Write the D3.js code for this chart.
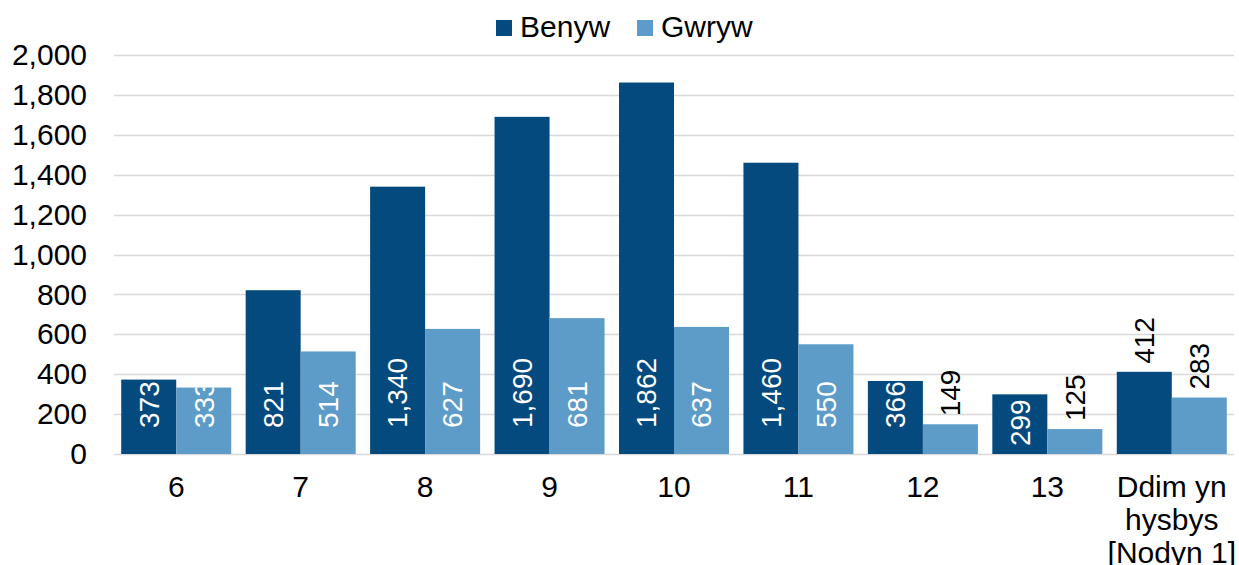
<!DOCTYPE html>
<html>
<head>
<meta charset="utf-8">
<script src="https://cdn.jsdelivr.net/npm/d3@7"></script>
<style>
  body { margin: 0; background: #fff; }
  svg { display: block; font-family: "Liberation Sans", Arial, sans-serif; }
</style>
</head>
<body>
<svg id="chart" width="1239" height="565"></svg>
<script>
// data
const categories = ["6", "7", "8", "9", "10", "11", "12", "13", "Ddim yn hysbys [Nodyn 1]"];
const seriesNames = ["Benyw", "Gwryw"];
const benyw = [373, 821, 1340, 1690, 1862, 1460, 366, 299, 412];
const gwryw = [333, 514, 627, 681, 637, 550, 149, 125, 283];
const yTicks = [0, 200, 400, 600, 800, 1000, 1200, 1400, 1600, 1800, 2000];

const colors = { Benyw: "#044a7e", Gwryw: "#5d9bc8" };

const width = 1239, height = 565;
const svg = d3.select("#chart");

const x = d3.scaleBand()
  .domain(categories)
  .range([114, 1234])
  .paddingInner(0.116)
  .paddingOuter(0.058);

const xInner = d3.scaleBand()
  .domain(seriesNames)
  .range([0, x.bandwidth()]);

const y = d3.scaleLinear().domain([0, 2000]).range([454, 55]);

const fmt = d3.format(",");

// gridlines
svg.append("g")
  .selectAll("line")
  .data(yTicks)
  .join("line")
  .attr("x1", 114)
  .attr("x2", 1234)
  .attr("y1", (d) => Math.round(y(d)) + 0.5)
  .attr("y2", (d) => Math.round(y(d)) + 0.5)
  .attr("stroke", "#d9d9d9")
  .attr("stroke-width", 1.5);

// y axis labels
const yAxis = d3.axisLeft(y).tickValues(yTicks).tickFormat(fmt).tickSize(0).tickPadding(0);
svg.append("g")
  .attr("transform", "translate(87,0)")
  .call(yAxis)
  .call((g) => g.select(".domain").remove())
  .selectAll("text")
  .attr("font-size", 30)
  .attr("font-family", "Liberation Sans, Arial, sans-serif")
  .attr("fill", "#000");

// rows of bars
const rows = categories.map((c, i) => ({
  cat: c,
  idx: i,
  values: [
    { key: "Benyw", value: benyw[i] },
    { key: "Gwryw", value: gwryw[i] },
  ],
}));

const defs = svg.append("defs");

const groups = svg.append("g")
  .selectAll("g")
  .data(rows)
  .join("g")
  .attr("transform", (d) => `translate(${x(d.cat)},0)`);

groups.each(function (row) {
  const g = d3.select(this);
  row.values.forEach((v) => {
    const bx = xInner(v.key);
    const bw = xInner.bandwidth();
    const by = y(v.value);
    const bh = y(0) - by;
    g.append("rect")
      .attr("x", bx)
      .attr("y", by)
      .attr("width", bw)
      .attr("height", bh)
      .attr("fill", colors[v.key]);

    // Excel puts labels at the bar base; small bars and the last group get them above
    const outside = v.value < 200 || row.idx === categories.length - 1;
    // the "13" Benyw label sits at the inside end of its bar
    const insideEnd = row.cat === "13" && v.key === "Benyw";
    const cx = bx + bw / 2;
    const id = `clip-${row.idx}-${v.key}`;
    const label = fmt(v.value);
    if (!outside) {
      defs.append("clipPath").attr("id", id)
        .append("rect")
        .attr("x", x(row.cat) + bx)
        .attr("y", by)
        .attr("width", bw)
        .attr("height", bh);
    }
    const wrap = g.append("g");
    if (!outside) wrap.attr("clip-path", `url(#${id})`).attr("transform", `translate(${-x(row.cat)},0)`);
    const ox = outside ? cx : cx + x(row.cat);
    let ty, anchor = "start";
    if (outside) ty = by - 8;
    else if (insideEnd) { ty = by + 5; anchor = "end"; }
    else ty = y(0) - 26;
    wrap.append("text")
      .attr("transform", `translate(${ox},${ty}) rotate(-90)`)
      .attr("dy", "0.35em")
      .attr("text-anchor", anchor)
      .attr("font-size", 28)
      .attr("fill", outside ? "#000" : "#fff")
      .text(label);
  });
});

// x axis category labels (wrapped)
const xLabelLines = {
  "Ddim yn hysbys [Nodyn 1]": ["Ddim yn", "hysbys", "[Nodyn 1]"],
};
const xl = svg.append("g")
  .selectAll("text")
  .data(categories)
  .join("text")
  .attr("x", (d) => x(d) + x.bandwidth() / 2)
  .attr("y", 497)
  .attr("text-anchor", "middle")
  .attr("font-size", 30)
  .attr("fill", "#000");
xl.each(function (d) {
  const lines = xLabelLines[d] || [d];
  const t = d3.select(this);
  lines.forEach((line, i) => {
    t.append("tspan")
      .attr("x", x(d) + x.bandwidth() / 2)
      .attr("dy", i === 0 ? 0 : 33)
      .text(line);
  });
});

// legend
const legendPos = [496, 637];
const legend = svg.append("g")
  .selectAll("g")
  .data(seriesNames)
  .join("g")
  .attr("transform", (d, i) => `translate(${legendPos[i]},20)`);
legend.append("rect")
  .attr("width", 16)
  .attr("height", 16)
  .attr("fill", (d) => colors[d]);
legend.append("text")
  .attr("x", 24)
  .attr("y", 17)
  .attr("font-size", 30)
  .attr("fill", "#000")
  .text((d) => d);
</script>
</body>
</html>
